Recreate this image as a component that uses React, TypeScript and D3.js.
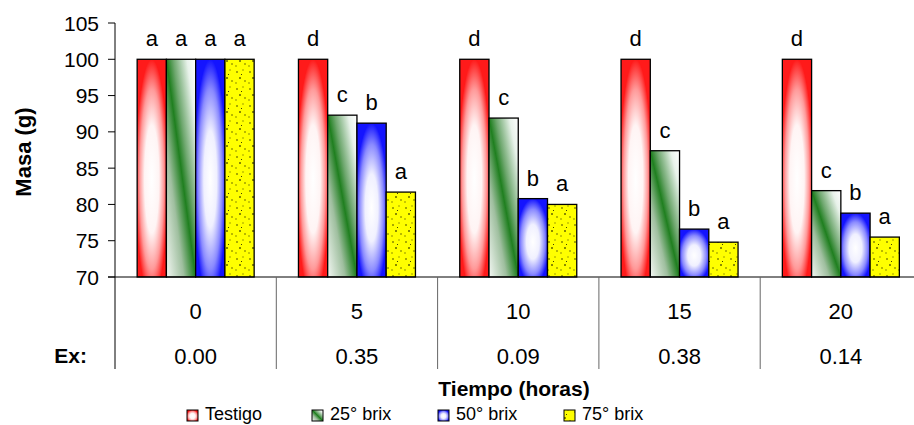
import React from "react";
import * as d3 from "d3";

const categories = ["0", "5", "10", "15", "20"];
const exValues = ["0.00", "0.35", "0.09", "0.38", "0.14"];
const seriesNames = ["Testigo", "25° brix", "50° brix", "75° brix"];
const testigo = [100, 100, 100, 100, 100];
const brix25 = [100, 92.3, 91.9, 87.4, 81.9];
const brix50 = [100, 91.2, 80.8, 76.6, 78.8];
const brix75 = [100, 81.7, 80.0, 74.8, 75.5];
const lettersTestigo = ["a", "d", "d", "d", "d"];
const letters25 = ["a", "c", "c", "c", "c"];
const letters50 = ["a", "b", "b", "b", "b"];
const letters75 = ["a", "a", "a", "a", "a"];
const yTicks = [70, 75, 80, 85, 90, 95, 100, 105];

const seriesValues = [testigo, brix25, brix50, brix75];
const seriesLetters = [lettersTestigo, letters25, letters50, letters75];
const fills = ["url(#gRed)", "url(#gGreen)", "url(#gBlue)", "url(#pYellow)"];

const W = 914;
const H = 425;
const FONT = "Arial, 'Liberation Sans', sans-serif";

export default function App() {
  const y = d3.scaleLinear().domain([70, 105]).range([277, 23]);
  const x = d3.scaleBand<string>().domain(categories).range([115, 921.5]).paddingInner(0).paddingOuter(0);
  const groupW = 117;
  const off = (x.bandwidth() - groupW) / 2;
  const x1 = d3.scaleBand<string>().domain(seriesNames).range([off, off + groupW]).padding(0);
  const bw = x1.bandwidth();

  const legendX = [187, 312, 438, 564];

  return (
    <svg width={W} height={H} style={{ position: "absolute", left: 0, top: 0, background: "#fff" }} fontFamily={FONT}>
      <defs>
        <radialGradient id="gRed" cx="0.5" cy="0.55" r="0.55">
          <stop offset="0" stopColor="#ffffff" />
          <stop offset="0.45" stopColor="#fff4f4" />
          <stop offset="0.75" stopColor="#ff9a9a" />
          <stop offset="1" stopColor="#ff1a1a" />
        </radialGradient>
        <radialGradient id="gBlue" cx="0.5" cy="0.55" r="0.55">
          <stop offset="0" stopColor="#ffffff" />
          <stop offset="0.4" stopColor="#f0f0ff" />
          <stop offset="0.75" stopColor="#8a8aff" />
          <stop offset="1" stopColor="#1414ff" />
        </radialGradient>
        <linearGradient id="gGreen" x1="0" y1="1" x2="1" y2="0">
          <stop offset="0" stopColor="#f4f8f4" />
          <stop offset="0.3" stopColor="#9fbf9f" />
          <stop offset="0.5" stopColor="#1f7f1f" />
          <stop offset="0.62" stopColor="#6fa86f" />
          <stop offset="0.85" stopColor="#e8f2ea" />
          <stop offset="1" stopColor="#ffffff" />
        </linearGradient>
        <pattern id="pYellow" patternUnits="userSpaceOnUse" width="13" height="17">
          <rect width="13" height="17" fill="#ffff00" />
          <rect x="2" y="3" width="2" height="2" fill="#a8a800" />
          <rect x="8" y="1" width="2" height="2" fill="#d0d000" />
          <rect x="5" y="9" width="2" height="2" fill="#8a8a00" />
          <rect x="10" y="12" width="2" height="2" fill="#b8b800" />
          <rect x="1" y="14" width="2" height="2" fill="#c8c800" />
          <rect x="7" y="6" width="1" height="1" fill="#404000" />
        </pattern>
      </defs>

      {/* y axis */}
      <line x1={115} x2={115} y1={y(105)} y2={369} stroke="#000" strokeWidth={1} />
      {yTicks.map((t) => (
        <g key={t}>
          <line x1={108} x2={115} y1={y(t)} y2={y(t)} stroke="#000" strokeWidth={1} />
          <text x={99} y={y(t)} dy="0.36em" textAnchor="end" fontSize={21} fill="#000">
            {t}
          </text>
        </g>
      ))}
      <text transform={`translate(31,152) rotate(-90)`} textAnchor="middle" fontSize={22} fontWeight="bold">
        Masa (g)
      </text>

      {/* bars */}
      {categories.map((c, i) => (
        <g key={c}>
          {seriesNames.map((s, j) => {
            const v = seriesValues[j][i];
            const bx = (x(c) as number) + (x1(s) as number);
            return (
              <g key={s}>
                <rect x={bx} y={y(v)} width={bw} height={y(70) - y(v)} fill={fills[j]} stroke="#000" strokeWidth={1.3} />
                <text x={bx + bw / 2} y={y(v) - 13} textAnchor="middle" fontSize={22} fill="#000">
                  {seriesLetters[j][i]}
                </text>
              </g>
            );
          })}
        </g>
      ))}

      {/* x axis line */}
      <line x1={108} x2={W} y1={y(70)} y2={y(70)} stroke="#000" strokeWidth={1} />

      {/* table separators */}
      {categories.slice(1).map((c) => (
        <line key={c} x1={x(c) as number} x2={x(c) as number} y1={y(70)} y2={369} stroke="#666" strokeWidth={1} />
      ))}
      {categories.map((c, i) => (
        <g key={c}>
          <text x={(x(c) as number) + x.bandwidth() / 2} y={319} textAnchor="middle" fontSize={22}>
            {c}
          </text>
          <text x={(x(c) as number) + x.bandwidth() / 2} y={364} textAnchor="middle" fontSize={22}>
            {exValues[i]}
          </text>
        </g>
      ))}
      <text x={87} y={363} textAnchor="end" fontSize={21} fontWeight="bold">
        Ex:
      </text>

      <text x={514} y={396} textAnchor="middle" fontSize={21} fontWeight="bold">
        Tiempo (horas)
      </text>

      {/* legend */}
      {seriesNames.map((s, j) => (
        <g key={s}>
          <rect x={legendX[j]} y={410} width={11} height={11} fill={fills[j]} stroke="#000" strokeWidth={1} />
          <text x={legendX[j] + 18} y={420} fontSize={18}>
            {s}
          </text>
        </g>
      ))}
    </svg>
  );
}
